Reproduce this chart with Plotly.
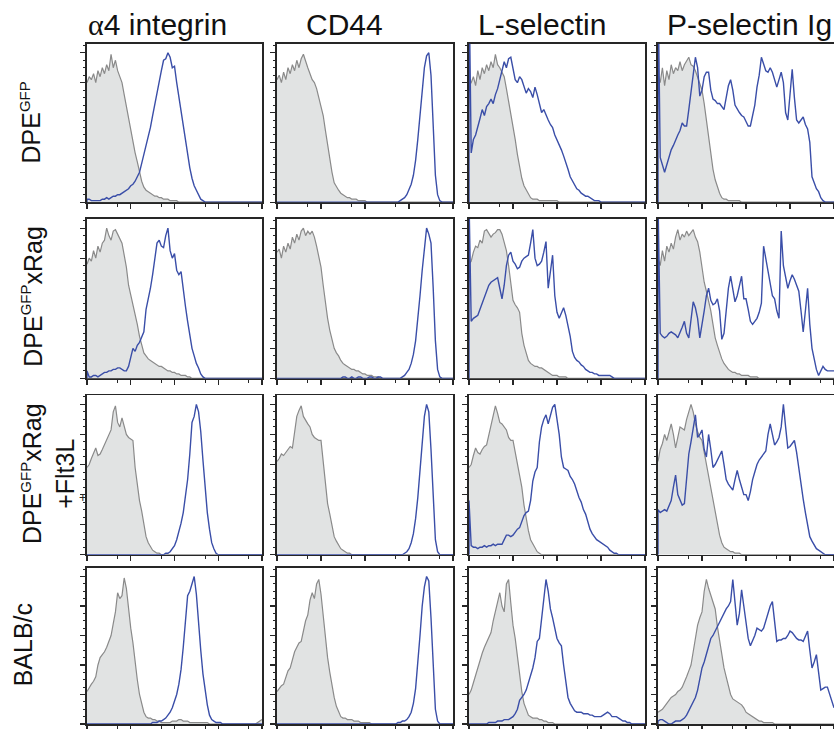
import plotly.graph_objects as go

# ---------------- data ----------------
# common fluorescence grid: log10 decades 0..4, step 0.05
X = [round(0.05 * i, 2) for i in range(81)]

COL_TITLES = ["<span style='font-family:Liberation Serif'>α</span>4 integrin", "CD44", "L-selectin", "P-selectin Ig"]
SUP = "<sup><span style='font-size:15px'>GFP</span></sup>"
ROW_LABELS = [
    "DPE" + SUP,
    "DPE" + SUP + "xRag",
    "DPE" + SUP + "xRag<br>+Flt3L",
    "BALB/c",
]

# ---- row 1 : DPE-GFP ----
G11 = [80,84,82,86,80,88,84,90,86,92, 88,99,90,95,88,84,80,72,64,55, 48,40,33,27,20,14,10,8,7,6,
       5,4,4,3,3,2,2,2,1,1, 1,1,0,0,0,0,0,0,0,0, 0,0,0,0,0,0,0,0,0,0, 0,0,0,0,0,0,0,0,0,0,
       0,0,0,0,0,0,0,0,0,0, 0]
B11 = [2,2,1,1,1,1,1,2,2,3, 2,3,4,4,5,5,6,7,8,9, 11,12,14,17,20,26,32,37,43,50,
       58,66,73,80,88,95,96,100,97,90, 91,80,70,60,50,40,32,23,16,11, 8,5,2,1,0,0,0,0,0,0,
       0,0,0,0,0,0,0,0,0,0, 0,0,0,0,0,0,0,0,0,0, 0]
G12 = [82,85,80,87,82,90,86,92,88,95, 90,96,99,94,90,86,82,80,76,70, 64,58,48,38,28,20,13,10,8,6,
       5,4,3,3,2,2,2,1,1,1, 1,0,0,0,0,0,0,0,0,0, 0,0,0,0,0,0,0,0,0,0, 0,0,0,0,0,0,0,0,0,0,
       0,0,0,0,0,0,0,0,0,0, 0]
B12 = [0,0,0,0,0,0,0,0,0,0, 0,0,0,0,0,0,0,0,0,0, 0,0,0,0,0,0,0,0,0,0, 0,0,0,0,0,0,0,0,0,0,
       0,0,0,0,0,0,0,0,0,0, 0,0,0,0,0,0,1,2,3,5, 8,12,18,28,42,60,78,90,98,100,
       85,50,18,5,1,0,0,0,0,0, 0]
G13 = [78,80,84,78,88,82,90,86,92,88, 94,90,99,92,90,87,84,76,68,58, 51,42,32,24,16,11,8,5,3,2,
       2,2,1,1,1,1,1,1,1,1, 1,0,0,0,0,0,0,0,0,0, 0,0,0,0,0,0,0,0,0,0, 0,0,0,0,0,0,0,0,0,0,
       0,0,0,0,0,0,0,0,0,0, 0]
B13 = [150,33,42,45,50,56,62,58,64,66, 69,66,72,76,82,88,94,90,96,97, 90,82,80,84,82,78,73,76,74,70,
       77,72,66,60,62,58,55,52,50,45, 42,38,35,31,27,22,17,14,11,9, 8,6,5,4,4,3,2,1,1,1,
       0,0,0,0,0,0,0,0,0,0, 0,0,0,0,0,0,0,0,0,0, 0]
G14 = [85,80,90,78,88,82,92,86,90,88, 94,88,92,95,97,92,91,88,84,80, 75,66,55,42,32,22,15,10,6,3,
       2,2,1,1,1,1,1,1,0,0, 0,0,0,0,0,0,0,0,0,0, 0,0,0,0,0,0,0,0,0,0, 0,0,0,0,0,0,0,0,0,0,
       0,0,0,0,0,0,0,0,0,0, 0]
B14 = [150,30,25,20,25,31,35,38,42,45, 48,53,51,51,62,75,85,97,90,71, 75,84,87,87,75,69,68,66,66,64,
       62,70,78,82,75,65,62,60,58,57, 54,51,51,58,65,77,85,97,92,88, 87,90,87,82,77,82,87,80,60,55,
       75,89,70,55,53,55,57,52,49,40, 17,13,9,7,3,1,0,0,0,0, 0]

# ---- row 2 : DPE-GFP x Rag ----
G21 = [76,80,78,85,80,88,84,90,92,100, 95,92,98,99,96,93,90,82,74,62, 56,50,44,36,28,22,17,15,13,12,
       11,10,9,8,8,7,6,5,5,4, 4,3,3,2,2,2,1,1,0,0, 0,0,0,0,0,0,0,0,0,0, 0,0,0,0,0,0,0,0,0,0,
       0,0,0,0,0,0,0,0,0,0, 0]
B21 = [5,1,1,2,2,1,2,3,4,4, 5,5,6,6,7,7,6,5,5,8, 14,20,18,22,24,28,31,46,52,60,
       69,78,90,92,88,87,95,100,85,80, 83,72,69,71,58,48,38,30,20,15, 10,7,3,1,0,0,0,0,0,0,
       0,0,0,0,0,0,0,0,0,0, 0,0,0,0,0,0,0,0,0,0, 0]
G22 = [84,86,80,88,84,90,86,94,90,96, 92,98,100,95,98,96,98,94,88,80, 74,62,50,40,32,26,20,17,15,12,
       10,9,8,7,6,6,5,5,4,3, 3,2,2,2,1,1,1,0,0,0, 0,0,0,0,0,0,0,0,0,0, 0,0,0,0,0,0,0,0,0,0,
       0,0,0,0,0,0,0,0,0,0, 0]
B22 = [0,0,0,0,0,0,0,0,0,0, 0,0,0,0,0,0,0,0,0,0, 0,0,0,0,0,0,0,0,0,0, 1,1,0,0,1,0,0,1,1,0,
       0,0,1,1,0,0,1,1,0,0, 0,0,0,0,0,0,0,1,2,4, 6,10,16,25,38,55,72,88,100,96,
       90,60,25,6,1,0,0,0,0,0, 0]
G23 = [76,78,84,88,87,92,90,98,99,96, 94,96,97,99,99,96,91,85,75,62, 52,49,47,44,30,22,16,12,10,9,
       8,8,7,7,6,5,4,3,2,2, 2,1,1,1,1,0,0,0,0,0, 0,0,0,0,0,0,0,0,0,0, 0,0,0,0,0,0,0,0,0,0,
       0,0,0,0,0,0,0,0,0,0, 0]
B23 = [120,38,40,41,42,46,50,53,58,62, 64,65,66,67,60,53,62,75,82,84, 78,76,73,74,78,80,81,82,90,99,
       80,75,76,78,84,91,60,70,82,55, 44,40,44,47,42,36,28,18,14,12, 11,9,8,6,5,4,4,3,3,2,
       2,2,2,2,2,1,0,0,0,0, 0,0,0,0,0,0,0,0,0,0, 0]
G24 = [80,75,85,78,88,84,90,86,94,99, 92,96,94,98,95,97,99,94,91,84, 72,64,58,52,45,36,27,22,17,13,
       10,8,6,5,4,4,3,3,2,2, 2,2,1,1,1,1,0,0,0,0, 0,0,0,0,0,0,0,0,0,0, 0,0,0,0,0,0,0,0,0,0,
       0,0,0,0,0,0,0,0,0,0, 0]
B24 = [120,30,28,27,28,30,31,30,29,27, 30,34,38,30,27,40,51,47,40,27, 35,45,55,60,52,49,50,53,45,26,
       30,45,60,68,58,51,55,62,68,53, 53,46,38,36,38,40,44,50,88,80, 73,65,55,53,45,40,98,75,68,60,
       65,69,66,62,58,45,31,45,60,36, 20,13,6,2,5,8,6,5,5,5, 5]

# ---- row 3 : DPE-GFP x Rag + Flt3L ----
G31 = [58,60,64,68,71,66,67,70,73,76, 80,83,95,99,88,85,91,86,80,78, 77,76,58,45,36,29,20,12,8,5,
       3,2,1,1,0,0,0,0,0,0, 0,0,0,0,0,0,0,0,0,0, 0,0,0,0,0,0,0,0,0,0, 0,0,0,0,0,0,0,0,0,0,
       0,0,0,0,0,0,0,0,0,0, 0]
B31 = [0,0,0,0,0,0,0,0,0,0, 0,0,0,0,0,0,0,0,0,0, 0,0,0,0,0,0,0,0,0,0, 0,0,0,0,0,0,1,1,2,4,
       6,10,15,21,28,38,50,67,88,92, 100,95,82,63,45,28,17,8,4,1, 0,0,0,0,0,0,0,0,0,0,
       0,0,0,0,0,0,0,0,0,0, 0]
G32 = [62,64,67,66,68,70,72,71,80,92, 96,99,92,89,87,85,80,78,77,76, 76,62,45,34,27,18,12,9,6,4,
       3,2,1,1,0,0,0,0,0,0, 0,0,0,0,0,0,0,0,0,0, 0,0,0,0,0,0,0,0,0,0, 0,0,0,0,0,0,0,0,0,0,
       0,0,0,0,0,0,0,0,0,0, 0]
B32 = [0,0,0,0,0,0,0,0,0,0, 0,0,0,0,0,0,0,0,0,0, 0,0,0,0,0,0,0,0,0,0, 0,0,0,0,0,0,0,0,0,0,
       0,0,0,0,0,0,0,0,0,0, 0,0,0,0,0,0,0,0,1,2, 4,8,14,24,38,58,78,92,100,95,
       70,35,10,2,0,0,0,0,0,0, 0]
G33 = [58,60,66,71,68,67,70,72,73,80, 85,92,99,94,88,87,85,83,78,76, 76,68,60,52,45,33,23,16,10,7,
       4,2,1,0,0,0,0,0,0,0, 0,0,0,0,0,0,0,0,0,0, 0,0,0,0,0,0,0,0,0,0, 0,0,0,0,0,0,0,0,0,0,
       0,0,0,0,0,0,0,0,0,0, 0]
B33 = [36,6,5,5,4,5,5,6,5,6, 6,7,6,7,7,7,10,13,13,12, 13,15,17,18,22,26,28,29,36,49,
       55,58,75,85,90,93,87,92,98,100, 90,80,65,58,57,56,52,50,47,42, 38,35,30,27,22,17,14,12,10,9,
       8,7,6,5,3,2,1,1,0,0, 0,0,0,0,0,0,0,0,0,0, 0]
G34 = [62,70,74,80,76,82,87,80,71,78, 85,84,83,90,95,100,95,87,82,78, 76,68,60,52,45,36,27,20,13,8,
       5,4,3,2,2,1,1,1,0,0, 0,0,0,0,0,0,0,0,0,0, 0,0,0,0,0,0,0,0,0,0, 0,0,0,0,0,0,0,0,0,0,
       0,0,0,0,0,0,0,0,0,0, 0]
B34 = [30,28,29,30,29,32,36,45,53,40, 36,33,34,50,67,75,83,93,78,80, 83,70,65,80,70,58,60,63,66,69,
       60,50,47,45,43,50,56,50,45,40, 40,36,42,50,55,60,63,65,67,69, 80,87,80,73,75,78,85,100,85,71,
       72,74,76,68,57,47,37,28,20,12, 9,6,4,3,2,1,0,0,0,0, 0]

# ---- row 4 : BALB/c ----
G41 = [22,25,27,29,32,40,45,47,49,52, 56,60,68,76,89,85,87,99,92,78, 65,55,40,30,20,14,8,5,4,4,
       3,3,2,2,1,1,1,1,1,2, 2,2,3,3,2,2,2,1,1,1, 1,1,1,1,1,1,0,0,0,0, 0,0,0,0,0,0,0,0,0,0,
       0,0,0,0,0,0,0,0,1,2, 3]
B41 = [0,0,0,0,0,0,0,0,0,0, 0,0,0,0,0,0,0,0,0,0, 0,0,0,0,0,0,0,0,0,0, 1,1,1,2,2,3,4,6,8,11,
       15,20,27,37,52,70,87,90,95,100, 88,66,50,34,23,13,6,3,2,1, 1,1,0,0,0,0,0,0,0,0,
       0,0,0,0,0,0,0,0,0,0, 0]
G42 = [22,24,26,27,32,36,38,44,49,52, 55,56,64,70,74,84,89,85,95,98, 88,72,60,45,35,25,18,12,8,5,
       4,4,3,3,3,2,2,2,1,1, 1,1,1,0,0,0,0,0,0,0, 0,0,0,0,0,0,0,0,0,0, 0,0,0,0,0,0,0,0,0,0,
       0,0,0,0,0,0,0,0,0,0, 0]
B42 = [0,0,0,0,0,0,0,0,0,0, 0,0,0,0,0,0,0,0,0,0, 0,0,0,0,0,0,0,0,0,0, 0,0,0,0,0,0,0,0,0,0,
       0,0,0,0,0,0,0,0,0,0, 0,0,0,0,0,1,1,2,2,3, 5,8,14,24,40,60,80,93,100,97,
       72,35,10,2,0,0,0,0,0,0, 0]
G43 = [20,23,28,33,38,44,48,52,55,58, 62,70,76,82,89,80,76,95,98,82, 67,58,45,33,22,14,10,6,5,4,
       4,4,3,3,2,2,1,1,1,0, 0,0,0,0,0,0,0,0,0,0, 0,0,0,0,0,0,0,0,0,0, 0,0,0,0,0,0,0,0,0,0,
       0,0,0,0,0,0,0,0,0,0, 0]
B43 = [0,0,0,0,0,0,0,0,0,1, 1,1,1,2,2,2,3,3,3,4, 5,7,10,16,18,20,23,28,32,38,
       45,56,58,70,85,98,90,78,72,65, 58,55,53,40,30,18,14,11,9,8, 8,8,7,7,7,6,6,5,5,5,
       5,6,7,8,7,5,5,5,4,3, 2,2,1,1,0,0,0,0,0,0, 0]
G44 = [8,9,10,12,14,16,18,19,20,22, 23,25,28,32,36,40,49,58,67,72, 76,90,98,92,87,82,78,66,56,46,
       38,32,25,20,17,16,15,14,13,11, 8,7,6,5,4,3,2,2,1,1, 1,1,1,0,0,0,0,0,0,0, 0,0,0,0,0,0,0,0,0,0,
       0,0,0,0,0,0,0,0,0,0, 0]
B44 = [2,3,3,2,1,0,0,1,2,2, 2,3,4,6,9,11,14,18,23,30, 38,42,47,52,58,60,63,66,70,73,
       76,78,80,83,98,80,67,75,91,80, 67,58,53,56,60,65,64,63,65,70, 76,80,83,70,56,57,57,58,58,60,
       63,62,60,58,57,57,56,60,63,50, 38,42,47,35,23,24,25,25,20,15, 11]

GRAY_SERIES = [[G11, G12, G13, G14], [G21, G22, G23, G24], [G31, G32, G33, G34], [G41, G42, G43, G44]]
BLUE_SERIES = [[B11, B12, B13, B14], [B21, B22, B23, B24], [B31, B32, B33, B34], [B41, B42, B43, B44]]

# ---------------- layout geometry (pixels) ----------------
W, H = 834, 729
COL_LEFT = [87, 277, 469, 658]
COL_WIDTH = [175, 176, 176, 176]
ROW_TOP = [44, 220, 397, 570]
ROW_BOTTOM = [203, 380, 557, 727]

FONT = "Liberation Sans, Arial, Helvetica, sans-serif"
AXIS_COLOR = "#262626"
GRAY_FILL = "#e1e3e3"
GRAY_LINE = "#8a8a8a"
BLUE = "#3a4ea8"

fig = go.Figure()
layout = {}
for r in range(4):
    for c in range(4):
        k = r * 4 + c + 1
        xa = "x" if k == 1 else f"x{k}"
        ya = "y" if k == 1 else f"y{k}"
        fig.add_trace(go.Scatter(
            x=X, y=GRAY_SERIES[r][c], xaxis=xa, yaxis=ya, mode="lines",
            line=dict(color=GRAY_LINE, width=1.2), fill="tozeroy", fillcolor=GRAY_FILL,
            hoverinfo="skip", showlegend=False))
        fig.add_trace(go.Scatter(
            x=[0] + X, y=[0] + BLUE_SERIES[r][c], xaxis=xa, yaxis=ya, mode="lines",
            line=dict(color=BLUE, width=1.4), hoverinfo="skip", showlegend=False))
        x0 = COL_LEFT[c] / W
        x1 = min(1.0, (COL_LEFT[c] + COL_WIDTH[c]) / W)
        y0 = 1 - ROW_BOTTOM[r] / H
        y1 = 1 - ROW_TOP[r] / H
        layout["xaxis" if k == 1 else f"xaxis{k}"] = dict(
            domain=[x0, x1], range=[0, 4], anchor=ya, showline=True, mirror=True,
            linecolor=AXIS_COLOR, linewidth=1.6, ticks="outside", tickvals=[0, 1, 2, 3, 4],
            ticklen=5, tickwidth=1.2, tickcolor=AXIS_COLOR, showticklabels=False,
            showgrid=False, zeroline=False, fixedrange=True, layer="below traces",
            minor=dict(tickvals=[0.7, 1.7, 2.7, 3.7], ticks="outside", ticklen=3,
                       tickwidth=1, tickcolor=AXIS_COLOR, showgrid=False))
        layout["yaxis" if k == 1 else f"yaxis{k}"] = dict(
            domain=[y0, y1], range=[0, 106], anchor=xa, showline=True, mirror=(c < 3),
            linecolor=AXIS_COLOR, linewidth=1.6, ticks="outside",
            tickvals=[0, 20, 40, 60, 80, 100], ticklen=5, tickwidth=1.2, tickcolor=AXIS_COLOR,
            showticklabels=False, showgrid=False, zeroline=False, fixedrange=True,
            layer="below traces",
            minor=dict(dtick=5, tick0=0, ticks="outside", ticklen=2.5, tickwidth=1,
                       tickcolor=AXIS_COLOR, showgrid=False))

annotations = []
TITLE_X = [86, 304, 476, 665]
for c, t in enumerate(COL_TITLES):
    annotations.append(dict(text=t, x=TITLE_X[c] / W, y=1 - 25 / H, xref="paper", yref="paper",
                            xanchor="left", yanchor="middle", showarrow=False,
                            font=dict(family=FONT, size=30, color="#111111")))

ROW_LABEL_X = [31, 32, 48, 23]
ROW_LABEL_Y = [123, 298, 476, 648]
for r, t in enumerate(ROW_LABELS):
    annotations.append(dict(text=t, x=ROW_LABEL_X[r] / W, y=1 - ROW_LABEL_Y[r] / H,
                            xref="paper", yref="paper", xanchor="center", yanchor="middle",
                            textangle=-90, showarrow=False,
                            font=dict(family=FONT, size=25, color="#111111")))

# small "+" mark on the left axis of the third row (present in the original figure)
annotations.append(dict(text="+", x=83 / W, y=1 - 500 / H, xref="paper", yref="paper",
                        xanchor="center", yanchor="middle", showarrow=False,
                        font=dict(family=FONT, size=13, color="#222222")))

layout["annotations"] = annotations
layout.update(width=W, height=H, margin=dict(l=0, r=0, t=0, b=0),
              paper_bgcolor="white", plot_bgcolor="white", showlegend=False)
fig.update_layout(**layout)
fig.write_html("out.html", config={"displayModeBar": False, "staticPlot": True},
               post_script="document.body.style.margin='0';")
